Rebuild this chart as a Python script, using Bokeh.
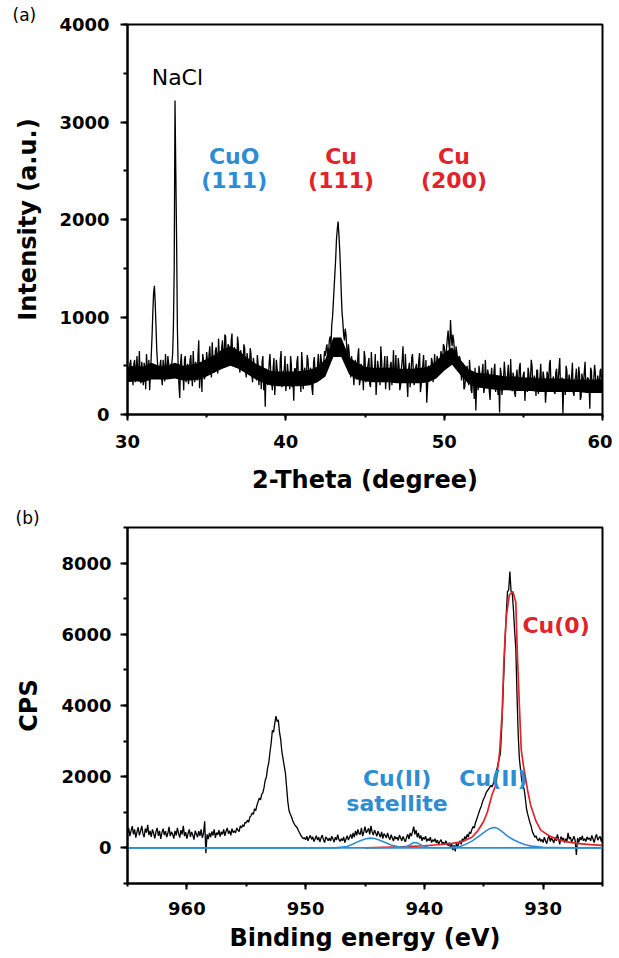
import numpy as np
from bokeh.plotting import figure
from bokeh.models import Range1d, SingleIntervalTicker, Label, Title
from bokeh.layouts import column
from bokeh.embed import file_html
from bokeh.resources import INLINE

# ---------------- (a) XRD ----------------
xrd_start, xrd_end = 30.0, 60.0
# intensity read at 30.0, 30.1, ..., 60.0
xrd_intensity = [
    # 30.0 - 31.4
    480, 360, 560, 410, 520, 330, 600, 430, 380, 540, 300, 470, 620, 390, 250,
    # 31.5 - 31.9  (NaCl small)
    600, 1050, 1320, 900, 520,
    # 32.0 - 32.7
    430, 560, 300, 480, 620, 380, 520, 450,
    # 32.8 - 33.1  (NaCl)
    520, 900, 3220, 1800,
    # 33.2 - 35.0
    480, 170, 620, 480, 560, 330, 520, 400, 610, 290, 470, 540, 350, 760, 420, 230, 560, 390, 640,
    # 35.1 - 38.0  (CuO 111 hump)
    450, 700, 380, 560, 480, 690, 420, 600, 520, 760, 480, 800, 560, 700, 520,
    830, 580, 650, 480, 720, 430, 600, 500, 680, 380, 560, 470, 620, 330, 520,
    # 38.1 - 42.4
    420, 610, 300, 470, 540, 250, 80, 450, 360, 620, 330, 480, 200, 560, 400,
    300, 650, 380, 460, 240, 520, 350, 600, 280, 140, 470, 540, 320, 430, 640,
    260, 480, 380, 560, 300, 440, 200, 590, 360, 500, 420, 620, 470, 560,
    # 42.5 - 44.2  (Cu 111)
    600, 720, 650, 800, 920, 1150, 1450, 1800, 1980, 1700, 1250, 950, 760, 820, 560, 640, 380, 520,
    # 44.3 - 49.6
    300, 560, 420, 680, 350, 480, 250, 590, 400, 520, 310, 640, 380, 460, 200, 550, 420, 700,
    330, 480, 260, 600, 390, 510, 300, 660, 420, 350, 580, 250, 470, 700, 360, 440, 180, 530,
    400, 620, 300, 480, 370, 560, 230, 450, 610, 340, 120, 500, 420, 580, 330, 620, 450, 560,
    # 49.7 - 51.0  (Cu 200)
    480, 650, 520, 700, 600, 780, 720, 970, 700, 760, 560, 640, 460, 580,
    # 51.1 - 60.0
    350, 520, 280, 450, 380, 560, 250, 420, 160, 40,
    380, 500, 300, 440, 220, 560, 330, 410, 150, 480,
    280, 520, 350, 200, 20, 420, 300, 540, 260, 400,
    330, 570, 240, 380, 180, 460, 310, 530, 270, 410,
    140, 350, 480, 260, 560, 300, 400, 190, 450, 320,
    520, 250, 380, 120, 440, 300, 560, 280, 390, 210,
    470, 330, 580, 260, 10, 360, 500, 240, 410, 300,
    530, 190, 380, 270, 490, 150, 420, 310, 540, 230,
    370, 60, 450, 280, 510, 220, 400, 300, 470, 260,
]
# intensity read at the half steps 30.05, 30.15, ..., 59.95
xrd_intensity_half = [
    # 30.05 - 31.45
    350, 520, 440, 300, 560, 470, 380, 650, 320, 450, 530, 260, 480, 560, 420,
    # 31.55 - 31.95
    800, 1250, 1150, 650, 380,
    # 32.05 - 32.75
    500, 380, 560, 340, 470, 600, 410, 520,
    # 32.85 - 33.15
    620, 1500, 2500, 900,
    # 33.25 - 35.05
    300, 520, 400, 250, 600, 450, 310, 560, 420, 650, 330, 480, 590, 270, 500, 620, 360, 470, 550,
    # 35.15 - 38.05
    620, 500, 740, 430, 650, 560, 780, 510, 690, 620, 820, 540, 720, 600, 760,
    500, 690, 610, 800, 520, 660, 580, 720, 460, 630, 540, 680, 410, 580, 470,
    # 38.15 - 42.45
    350, 520, 440, 260, 600, 380, 470, 300, 540, 420, 250, 580, 360, 470, 330,
    560, 280, 440, 600, 350, 420, 260, 510, 380, 470, 300, 600, 390, 230, 520,
    440, 330, 610, 400, 480, 270, 530, 420, 350, 620, 460, 540, 400, 650,
    # 42.55 - 44.25
    680, 580, 760, 700, 1000, 1300, 1600, 1900, 1850, 1500, 1050, 820, 880, 680, 720, 500, 600, 420,
    # 44.35 - 49.65
    480, 360, 600, 300, 520, 420, 650, 330, 470, 580, 280, 500, 430, 620, 350, 480, 300, 560,
    440, 600, 380, 470, 250, 540, 450, 330, 610, 400, 500, 300, 560, 420, 620, 340, 460, 280,
    580, 450, 350, 520, 430, 630, 300, 500, 400, 560, 280, 470, 360, 540, 470, 380, 600, 500,
    # 49.75 - 51.05
    560, 600, 720, 620, 680, 860, 650, 800, 820, 640, 700, 520, 600, 450,
    # 51.15 - 59.95
    420, 260, 380, 500, 300, 440, 220, 360, 480, 300,
    250, 420, 330, 520, 270, 390, 460, 240, 360, 300,
    450, 230, 400, 330, 480, 200, 370, 420, 290, 510,
    260, 350, 430, 220, 390, 300, 480, 250, 360, 440,
    310, 230, 420, 350, 500, 270, 330, 460, 210, 380,
    290, 440, 360, 240, 410, 520, 280, 350, 230, 430,
    320, 470, 250, 380, 300, 200, 450, 340, 270, 400,
    230, 360, 470, 290, 410, 180, 350, 440, 260, 380,
    300, 480, 240, 360, 420, 270, 330, 450, 250,
]

# solid core of the noise band (lower / upper edge, read every 0.5 deg)
xrd_band_low = [
    330, 340, 330, 360, 360, 360, 370, 350, 350, 360,
    390, 430, 470, 500, 470, 420, 370, 330, 300, 290,
    290, 290, 290, 300, 330, 390, 590, 590, 410, 360,
    340, 330, 330, 330, 320, 320, 320, 320, 330, 370,
    450, 510, 410, 320, 280, 270, 260, 250, 250, 240,
    240, 240, 230, 230, 230, 230, 230, 230, 220, 220,
    220,
]
xrd_band_high = [
    490, 500, 490, 530, 500, 500, 530, 500, 510, 530,
    570, 610, 670, 700, 660, 590, 530, 490, 450, 440,
    440, 440, 450, 460, 490, 570, 790, 790, 590, 530,
    490, 480, 480, 480, 470, 470, 470, 480, 490, 550,
    630, 690, 570, 470, 430, 420, 410, 400, 390, 390,
    380, 380, 370, 370, 370, 370, 360, 360, 360, 360,
    360,
]

# ---------------- (b) XPS Cu 2p ----------------
xps_start, xps_end = 965.0, 925.0        # binding energy, 0.1 eV step (decreasing)
xps_cps = [
    420, 560, 330, 480, 610, 380, 520, 290, 450, 580,
    350, 470, 620, 400, 300, 540, 430, 650, 360, 480,
    310, 520, 410, 270, 460, 560, 340, 480, 250, 430,
    540, 360, 470, 300, 410, 590, 330, 450, 380, 260,
    480, 350, 560, 410, 290, 500, 380, 620, 330, 440,
    260, 400, 520, 310, 450, 360, 230, 480, 390, 300,
    470, 340, 520, 280, 410, 750, -150, 380, 250, 420,
    300, 460, 350, 520, 280, 430, 370, 500, 320, 450,
    380, 520, 340, 470, 560, 400, 480, 350, 540, 430,
    480, 420, 560, 500, 460, 620, 560, 650, 600, 720,
    700, 780, 720, 860, 900, 980, 940, 1100, 1050, 1200,
    1300, 1400, 1350, 1500, 1550, 1700, 1900, 2000, 2250, 2400,
    2700, 2950, 3300, 3250, 3500, 3700, 3550, 3600, 3250, 3050,
    2700, 2500, 2300, 2100, 1700, 1300, 1050, 950, 880, 780,
    700, 640, 600, 560, 480, 420, 350, 300, 260, 280,
    230, 330, 200, 290, 350, 240, 310, 180, 260, 340,
    220, 300, 170, 280, 360, 230, 150, 310, 260, 200,
    280, 190, 330, 250, 160, 300, 220, 370, 240, 180,
    260, 200, 310, 150, 250, 340, 220, 300, 380, 260,
    420, 300, 480, 350, 520, 400, 380, 560, 330, 450,
    600, 420, 480, 550, 380, 620, 450, 360, 500, 420,
    330, 470, 380, 300, 450, 260, 400, 350, 280, 420,
    300, 230, 370, 280, 190, 330, 250, 300, 210, 360,
    280, 200, 320, 240, 170, 300, 380, 250, 420, 330,
    450, 600, 380, 500, 300, 420, 260, 350, 200, 300,
    240, 330, 180, 260, 200, 300, 150, 230, 180, 260,
    140, 220, 100, 180, 230, 120, 160, 90, 200, 130,
    60, 150, 20, 110, -60, 80, -100, 150, 30, 120,
    200, 100, 260, 180, 320, 240, 380, 300, 450, 400,
    520, 600, 560, 700, 800, 900, 1000, 1100, 1180, 1300,
    1380, 1450, 1550, 1600, 1650, 1700, 1750, 1720, 1800, 1950,
    2100, 2200, 2350, 2500, 2650, 3300, 4100, 5000, 5900, 6600,
    7200, 7250, 7760, 7200, 7150, 6700, 6100, 5600, 4300, 3200,
    2500, 2200, 1900, 1750, 1650, 1400, 1100, 950, 820, 700,
    600, 450, 380, 300, 340, 250, 200, 280, 180, 240,
    150, 300, 200, 120, 260, 350, 180, 280, 220, 140,
    300, 200, 380, 250, 100, 320, 230, 280, 150, 260,
    180, 420, 250, 300, 160, 240, 330, 200, -200, 280,
    150, 300, 220, 340, 200, 260, 180, 310, 240, 280,
    200, 350, 250, 150, 300, 380, 220, 280, 320, 180,
    300,
]

# Cu(0) fitted component (red)
cu0_be = [945, 942, 940, 938, 937, 936.5, 936, 935.5, 935, 934.7,
          934.3, 934.0, 933.85, 933.66, 933.45, 933.3, 933.1, 932.85, 932.55, 932.3,
          932.18, 932.0, 931.84, 931.65, 931.3, 931.05, 930.6, 930.2, 929.5, 928.8,
          928, 927, 926, 925]
cu0_cps = [0, 30, 60, 110, 160, 220, 300, 480, 750, 1000,
           1500, 1750, 2150, 2700, 3800, 5300, 6500, 7100, 7200, 6900,
           5530, 4000, 2750, 2300, 1600, 1200, 750, 500, 340, 240,
           170, 120, 90, 70]

# Cu(II) + satellite components (blue)
cu2_be = [965, 947.5, 946.5, 946.0, 945.5, 945.0, 944.6, 944.2, 943.8, 943.3,
          942.8, 942.2, 941.6, 941.2, 940.9, 940.6, 940.2, 939.7, 939.0, 938.0,
          937.0, 936.4, 936.0, 935.6, 935.2, 934.8, 934.5, 934.2, 934.0, 933.8,
          933.5, 933.0, 932.5, 932.0, 931.5, 931.0, 930.0, 928.0, 925.0]
cu2_cps = [0, 0, 40, 110, 190, 250, 275, 265, 220, 150,
           80, 30, 20, 90, 150, 140, 70, 20, 5, 10,
           40, 120, 190, 280, 380, 480, 540, 570, 570, 540,
           470, 330, 230, 150, 90, 50, 20, 5, 0]

# background (blue, flat)
bg_be = [965, 925]
bg_cps = [0, 0]

RED = "#e0242a"
BLUE = "#2d8dd4"
FONT = "DejaVu Sans"


def style(p):
    p.grid.visible = False
    p.outline_line_color = "black"
    p.outline_line_width = 2
    p.outline_line_alpha = 1
    p.background_fill_color = "white"
    p.border_fill_color = "white"
    for ax in p.axis:
        ax.axis_line_width = 2
        ax.axis_line_color = "black"
        ax.major_tick_line_width = 2
        ax.minor_tick_line_width = 2
        ax.major_tick_in = 0
        ax.minor_tick_in = 0
        ax.major_label_text_font = FONT
        ax.major_label_text_font_style = "bold"
        ax.major_label_text_font_size = "18px"
        ax.major_label_text_color = "black"
        ax.axis_label_text_font = FONT
        ax.axis_label_text_font_style = "bold"
        ax.axis_label_text_font_size = "24px"
        ax.axis_label_text_color = "black"


def panel_tag(text, offset):
    return Title(text=text, align="left", offset=offset, standoff=0,
                 text_font=FONT, text_font_style="normal", text_font_size="17px",
                 text_color="black", vertical_align="bottom")


def lab(p, x, y, text, color="black", size="22px", style="bold", align="center"):
    p.add_layout(Label(x=x, y=y, text=text, text_color=color, text_font=FONT,
                       text_font_style=style, text_font_size=size, text_align=align,
                       text_baseline="alphabetic"))


# ---------- top figure ----------
p1 = figure(width=612, height=500, output_backend="svg", toolbar_location=None,
            x_range=Range1d(xrd_start, xrd_end), y_range=Range1d(0, 4000),
            title=panel_tag("(a)", -115),
            min_border_left=127, min_border_right=8, min_border_top=24, min_border_bottom=86)
style(p1)
p1.xaxis.ticker = SingleIntervalTicker(interval=10, num_minor_ticks=2)
p1.yaxis.ticker = SingleIntervalTicker(interval=1000, num_minor_ticks=2)
p1.xaxis.major_tick_out = 6
p1.xaxis.minor_tick_out = 3
p1.yaxis.major_tick_out = 7
p1.yaxis.minor_tick_out = 4
p1.xaxis.major_label_standoff = 14
p1.yaxis.major_label_standoff = 11
p1.xaxis.axis_label = "2-Theta (degree)"
p1.yaxis.axis_label = "Intensity (a.u.)"
p1.xaxis.axis_label_standoff = 15
p1.yaxis.axis_label_standoff = 14

# interleave full-step and half-step readings into one trace
xrd_trace = []
for i, v in enumerate(xrd_intensity):
    xrd_trace.append(v)
    if i < len(xrd_intensity_half):
        xrd_trace.append(xrd_intensity_half[i])
xrd_x = np.linspace(xrd_start, xrd_end, len(xrd_trace))

band_x = np.linspace(xrd_start, xrd_end, len(xrd_band_low))
p1.varea(x=band_x, y1=xrd_band_low, y2=xrd_band_high, fill_color="black", fill_alpha=1)
p1.line(xrd_x, xrd_trace, line_color="black", line_width=1.3)

lab(p1, 33.15, 3456, "NaCl", style="normal")
lab(p1, 36.74, 2648, "CuO", color=BLUE)
lab(p1, 36.74, 2402, "(111)", color=BLUE)
lab(p1, 43.49, 2648, "Cu", color=RED)
lab(p1, 43.49, 2402, "(111)", color=RED)
lab(p1, 50.62, 2648, "Cu", color=RED)
lab(p1, 50.62, 2402, "(200)", color=RED)

# ---------- bottom figure ----------
p2 = figure(width=612, height=457, output_backend="svg", toolbar_location=None,
            x_range=Range1d(xps_start, xps_end), y_range=Range1d(-1000, 9000),
            title=panel_tag("(b)", -112),
            min_border_left=124, min_border_right=10, min_border_top=27, min_border_bottom=74)
style(p2)
p2.xaxis.ticker = SingleIntervalTicker(interval=10, num_minor_ticks=2)
p2.yaxis.ticker = SingleIntervalTicker(interval=2000, num_minor_ticks=2)
p2.xaxis.major_tick_out = 6
p2.xaxis.minor_tick_out = 3
p2.yaxis.major_tick_out = 7
p2.yaxis.minor_tick_out = 4
p2.xaxis.major_label_standoff = 12
p2.yaxis.major_label_standoff = 9
p2.xaxis.axis_label = "Binding energy (eV)"
p2.yaxis.axis_label = "CPS"
p2.xaxis.axis_label_standoff = 6
p2.yaxis.axis_label_standoff = 15

xps_x = np.linspace(xps_start, xps_end, len(xps_cps))
p2.line(xps_x, xps_cps, line_color="black", line_width=1.3)
p2.line(cu0_be, cu0_cps, line_color=RED, line_width=1.7)
p2.line(bg_be, bg_cps, line_color=BLUE, line_width=1.6)
p2.line(cu2_be, cu2_cps, line_color=BLUE, line_width=1.6)

lab(p2, 931.74, 6234, "Cu(0)", color=RED, align="left")
lab(p2, 934.18, 1960, "Cu(II)", color=BLUE)
lab(p2, 942.3, 1960, "Cu(II)", color=BLUE)
lab(p2, 942.3, 1248, "satellite", color=BLUE)

layout = column(p1, p2, spacing=0)
open("out.html", "w").write(file_html(layout, INLINE))
